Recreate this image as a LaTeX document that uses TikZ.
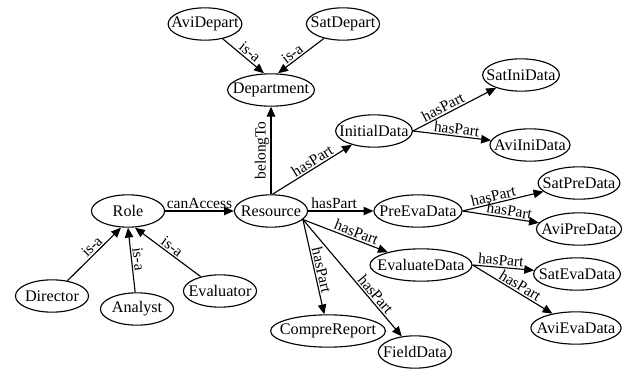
\documentclass[tikz,border=0pt]{standalone}
\usepackage{fontspec}
\setmainfont{Liberation Serif}
\usetikzlibrary{shapes.geometric,arrows.meta}

\begin{document}
\begin{tikzpicture}[x=0.025cm, y=-0.025cm,
  concept/.style={ellipse, draw, line width=0.8pt, inner xsep=-5.3pt, inner ysep=0pt,
    minimum width=52pt, minimum height=23pt, font=\fontsize{11.5}{13}\selectfont},
  rel/.style={-{Triangle[length=7pt,width=6pt]}, line width=0.8pt},
  tag/.style={inner sep=1pt, font=\fontsize{11}{12}\selectfont},
  lbl/.style={tag, sloped, above}]

  \useasboundingbox (0,0) rectangle (631,373);

  % ---- 概念节点 ----
  \node[concept] (avidep)    at (205,24)  {AviDepart};
  \node[concept] (satdep)    at (343,24)  {SatDepart};
  \node[concept] (dept)      at (271,90)  {Department};
  \node[concept] (inidata)   at (374,131) {InitialData};
  \node[concept] (satini)    at (521,75)  {SatIniData};
  \node[concept] (aviini)    at (530,145) {AviIniData};
  \node[concept] (role)      at (128,211) {Role};
  \node[concept] (res)       at (271,211) {Resource};
  \node[concept] (preeva)    at (418,211) {PreEvaData};
  \node[concept] (satpre)    at (579,183) {SatPreData};
  \node[concept] (avipre)    at (579,229) {AviPreData};
  \node[concept] (evadata)   at (421,265) {EvaluateData};
  \node[concept] (sateva)    at (577,274) {SatEvaData};
  \node[concept] (avieva)    at (576,328) {AviEvaData};
  \node[concept] (director)  at (52,296)  {Director};
  \node[concept] (analyst)   at (137,309) {Analyst};
  \node[concept] (evaluator) at (220,291) {Evaluator};
  \node[concept] (compre)    at (328,331) {CompreReport};
  \node[concept] (field)     at (415,352) {FieldData};

  % ---- is-a 关系 ----
  \draw[rel] (avidep) -- ([xshift=-5pt]dept.north) node[lbl, pos=0.55] {is-a};
  \draw[rel] (satdep) -- ([xshift=5pt]dept.north) node[lbl, pos=0.6] {is-a};
  \draw[rel] (director) -- ([xshift=-5pt]role.south) node[lbl, pos=0.55] {is-a};
  \draw[rel] (analyst) -- (role.south) node[lbl, midway] {is-a};
  \draw[rel] (evaluator) -- ([xshift=5pt]role.south) node[lbl, midway] {is-a};

  % ---- 其他关系 ----
  \draw[rel] (res) -- (dept) node[tag, midway, rotate=90, anchor=south] {belongTo};
  \draw[rel] (role) -- (res) node[lbl, midway] {canAccess};

  % hasPart
  \draw[rel] (res.85) -- (inidata) node[lbl, pos=0.55] {hasPart};
  \draw[rel] (res) -- (preeva) node[lbl, pos=0.4] {hasPart};
  \draw[rel] (res.-15) -- (evadata) node[lbl, pos=0.6] {hasPart};
  \draw[rel] (res.-15) -- (compre) node[lbl, pos=0.55] {hasPart};
  \draw[rel] (res.-15) -- (field) node[lbl, pos=0.68] {hasPart};
  \draw[rel] (inidata.east) -- (satini) node[lbl, pos=0.4] {hasPart};
  \draw[rel] (inidata.east) -- (aviini) node[lbl, pos=0.55] {hasPart};
  \draw[rel] (preeva.east) -- (satpre) node[lbl, pos=0.4] {hasPart};
  \draw[rel] (preeva.east) -- (avipre) node[lbl, pos=0.6] {hasPart};
  \draw[rel] (evadata.east) -- (sateva) node[lbl, pos=0.45] {hasPart};
  \draw[rel] (evadata.east) -- (avieva) node[lbl, pos=0.55] {hasPart};

\end{tikzpicture}
\end{document}
